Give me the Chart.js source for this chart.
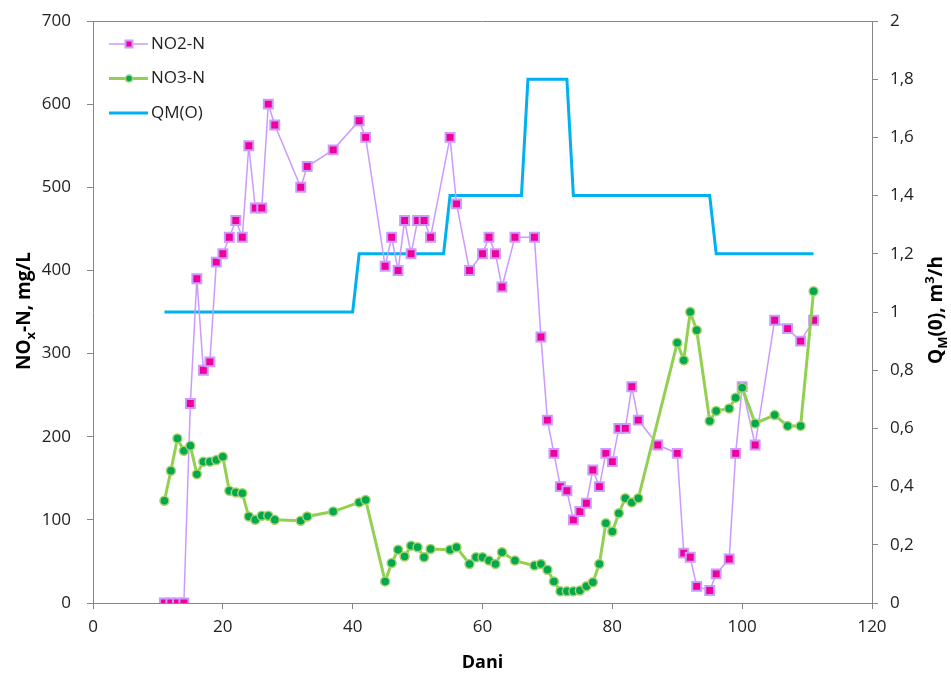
<!DOCTYPE html>
<html>
<head>
<meta charset="utf-8">
<script src="https://cdn.jsdelivr.net/npm/chart.js@4.4.1/dist/chart.umd.min.js"></script>
<style>
  html, body { margin: 0; padding: 0; background: #fff; }
  canvas { display: block; }
</style>
</head>
<body>
<canvas id="noxChart" width="951" height="675"></canvas>
<script>
// ==========================================
// Data
// ==========================================
const no2Days = [11, 12, 13, 14, 15, 16, 17, 18, 19, 20, 21, 22, 23, 24, 25, 26, 27, 28, 32, 33, 37, 41, 42,
  45, 46, 47, 48, 49, 50, 51, 52, 55, 56, 58, 60, 61, 62, 63, 65, 68, 69, 70, 71, 72, 73, 74, 75, 76, 77, 78,
  79, 80, 81, 82, 83, 84, 87, 90, 91, 92, 93, 95, 96, 98, 99, 100, 102, 105, 107, 109, 111];
const no2Values = [0, 0, 0, 0, 240, 390, 280, 290, 410, 420, 440, 460, 440, 550, 475, 475, 600, 575, 500, 525, 545, 580, 560,
  405, 440, 400, 460, 420, 460, 460, 440, 560, 480, 400, 420, 440, 420, 380, 440, 440, 320, 220, 180, 140, 135, 100, 110, 120, 160, 140,
  180, 170, 210, 210, 260, 220, 190, 180, 60, 55, 20, 15, 35, 53, 180, 260, 190, 340, 330, 315, 340];

const no3Days = [11, 12, 13, 14, 15, 16, 17, 18, 19, 20, 21, 22, 23, 24, 25, 26, 27, 28, 32, 33, 37, 41, 42,
  45, 46, 47, 48, 49, 50, 51, 52, 55, 56, 58, 59, 60, 61, 62, 63, 65, 68, 69, 70, 71, 72, 73, 74, 75, 76, 77, 78,
  79, 80, 81, 82, 83, 84, 90, 91, 92, 93, 95, 96, 98, 99, 100, 102, 105, 107, 109, 111];
const no3Values = [123, 159, 198, 183, 189, 155, 170, 170, 172, 176, 135, 133, 132, 104, 100, 105, 105, 100, 99, 104, 110, 121, 124,
  26, 48, 64, 56, 69, 67, 55, 65, 64, 67, 47, 55, 55, 51, 47, 61, 51, 45, 47, 40, 26, 14, 14, 14, 15, 20, 25, 47,
  96, 86, 108, 126, 121, 126, 313, 292, 350, 328, 219, 231, 234, 247, 259, 216, 226, 213, 213, 375];

const qmDays = [11, 40, 41, 54, 55, 66, 67, 73, 74, 95, 96, 111];
const qmValues = [1.0, 1.0, 1.2, 1.2, 1.4, 1.4, 1.8, 1.8, 1.4, 1.4, 1.2, 1.2];

const xTicks = [0, 120, 20];      // min, max, step
const leftTicks = [0, 700, 100];
const rightTicks = [0, 2, 0.2];

// ==========================================
// Helpers
// ==========================================
function toPoints(days, values) {
  return days.map((d, i) => ({ x: d, y: values[i] }));
}

function commaDecimal(v) {
  return Number(v.toFixed(1)).toString().replace('.', ',');
}

const FONT = "'Open Sans', 'Noto Sans', sans-serif";
const AXIS_COLOR = '#868686';
const TEXT_COLOR = '#222222';

// Draw a text made of pieces (normal / sub / sup), centred on (cx, cy)
function drawRichText(ctx, parts, cx, cy, angle, size) {
  const small = Math.round(size * 0.66);
  ctx.save();
  ctx.translate(cx, cy);
  ctx.rotate(angle);
  ctx.textBaseline = 'alphabetic';
  ctx.textAlign = 'left';
  let total = 0;
  parts.forEach(p => {
    ctx.font = 'bold ' + (p.k === 'n' ? size : small) + 'px ' + FONT;
    p.w = ctx.measureText(p.t).width;
    total += p.w;
  });
  let x = -total / 2;
  const base = size * 0.36;
  parts.forEach(p => {
    ctx.font = 'bold ' + (p.k === 'n' ? size : small) + 'px ' + FONT;
    let dy = 0;
    if (p.k === 'sub') dy = size * 0.25;
    if (p.k === 'sup') dy = -size * 0.4;
    ctx.fillStyle = '#000';
    ctx.fillText(p.t, x, base + dy);
    x += p.w;
  });
  ctx.restore();
}

// Fixed axis sizes so the plot box sits where the reference has it
function fixedSize(w, h) {
  return s => {
    if (w) s.width = w;
    if (h) s.height = h;
    s.paddingTop = 0;
    s.paddingBottom = 0;
    s.paddingLeft = 0;
    s.paddingRight = 0;
  };
}

// ==========================================
// Decorations: frame top, legend, axis titles
// ==========================================
const decorPlugin = {
  id: 'decor',
  afterDraw(chart) {
    const { ctx, chartArea: a } = chart;
    ctx.save();

    // top frame line
    ctx.strokeStyle = AXIS_COLOR;
    ctx.lineWidth = 1;
    ctx.beginPath();
    ctx.moveTo(a.left, a.top + 0.5);
    ctx.lineTo(a.right, a.top + 0.5);
    ctx.stroke();

    // legend (top-left inside the plot, one item per row)
    const legendOrder = [0, 1, 2];
    legendOrder.forEach((idx, row) => {
      const ds = chart.data.datasets[idx];
      const y = a.top + 23 + row * 34.5;
      const x0 = a.left + 16;
      ctx.strokeStyle = ds.borderColor;
      ctx.lineWidth = ds.borderWidth;
      ctx.beginPath();
      ctx.moveTo(x0, y);
      ctx.lineTo(x0 + 39, y);
      ctx.stroke();
      if (ds.pointRadius > 0) {
        ctx.fillStyle = ds.pointBackgroundColor;
        ctx.strokeStyle = ds.pointBorderColor;
        ctx.lineWidth = ds.pointBorderWidth;
        Chart.helpers.drawPoint(ctx, {
          pointStyle: ds.pointStyle,
          radius: ds.pointRadius * 0.78,
          rotation: 0,
          borderWidth: ds.pointBorderWidth
        }, x0 + 20, y);
      }
      ctx.fillStyle = TEXT_COLOR;
      ctx.font = '17px ' + FONT;
      ctx.textAlign = 'left';
      ctx.textBaseline = 'middle';
      ctx.fillText(ds.label, x0 + 42, y);
    });

    // axis titles
    drawRichText(ctx, [{ t: 'NO', k: 'n' }, { t: 'x', k: 'sub' }, { t: '-N, mg/L', k: 'n' }],
      23, 311, -Math.PI / 2, 19);
    drawRichText(ctx, [{ t: 'Q', k: 'n' }, { t: 'M', k: 'sub' }, { t: '(0), m', k: 'n' }, { t: '3', k: 'sup' }, { t: '/h', k: 'n' }],
      935, 310, -Math.PI / 2, 19);
    drawRichText(ctx, [{ t: 'Dani', k: 'n' }], (a.left + a.right) / 2, 662, 0, 18);

    ctx.restore();
  }
};

// ==========================================
// Chart
// ==========================================
const tickFont = { family: FONT, size: 17 };
const gridOpts = { drawOnChartArea: false, drawTicks: true, tickLength: 6, color: AXIS_COLOR };
const borderOpts = { display: true, color: AXIS_COLOR, width: 1 };

new Chart(document.getElementById('noxChart').getContext('2d'), {
  type: 'line',
  data: {
    datasets: [
      {
        label: 'NO2-N',
        data: toPoints(no2Days, no2Values),
        yAxisID: 'y',
        borderColor: '#CC99FF',
        borderWidth: 1.5,
        pointStyle: 'rect',
        pointRadius: 6.3,
        pointBackgroundColor: '#EE0099',
        pointBorderColor: '#CC99FF',
        pointBorderWidth: 2,
        tension: 0,
        order: 2
      },
      {
        label: 'NO3-N',
        data: toPoints(no3Days, no3Values),
        yAxisID: 'y',
        borderColor: '#92D050',
        borderWidth: 3,
        pointStyle: 'circle',
        pointRadius: 4.5,
        pointBackgroundColor: '#00A84F',
        pointBorderColor: '#A9D26A',
        pointBorderWidth: 1.5,
        tension: 0,
        order: 1
      },
      {
        label: 'QM(O)',
        data: toPoints(qmDays, qmValues),
        yAxisID: 'y1',
        borderColor: '#00B0F0',
        borderWidth: 3,
        pointRadius: 0,
        tension: 0,
        order: 3
      }
    ]
  },
  options: {
    responsive: false,
    animation: false,
    events: [],
    layout: { padding: { top: 21, left: 0, right: 0, bottom: 0 } },
    plugins: {
      legend: { display: false },
      tooltip: { enabled: false },
      title: { display: false }
    },
    scales: {
      x: {
        type: 'linear',
        min: xTicks[0],
        max: xTicks[1],
        ticks: { stepSize: xTicks[2], font: tickFont, color: TEXT_COLOR, padding: 8, maxRotation: 0 },
        grid: gridOpts,
        border: borderOpts,
        afterFit: fixedSize(0, 72)
      },
      y: {
        position: 'left',
        min: leftTicks[0],
        max: leftTicks[1],
        ticks: { stepSize: leftTicks[2], font: tickFont, color: TEXT_COLOR, padding: 16 },
        grid: gridOpts,
        border: borderOpts,
        afterFit: fixedSize(93, 0)
      },
      y1: {
        position: 'right',
        min: rightTicks[0],
        max: rightTicks[1],
        ticks: { stepSize: rightTicks[2], font: tickFont, color: TEXT_COLOR, padding: 12, callback: commaDecimal },
        grid: gridOpts,
        border: borderOpts,
        afterFit: fixedSize(79, 0)
      }
    }
  },
  plugins: [decorPlugin]
});
</script>
</body>
</html>
